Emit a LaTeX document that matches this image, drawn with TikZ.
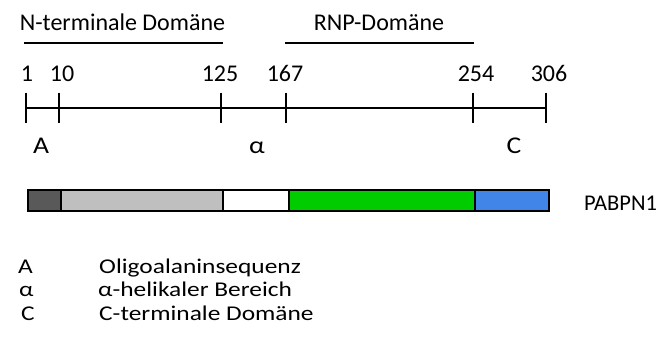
\documentclass[tikz,border=0pt]{standalone}
\usepackage{fontspec}
\setmainfont{Carlito}
\newfontfamily\markfont[FakeStretch=1.15]{Carlito}
\newfontfamily\legfont[FakeStretch=1.21]{Carlito}
\definecolor{segdark}{RGB}{89,89,89}
\definecolor{seglight}{RGB}{191,191,191}
\definecolor{seggreen}{RGB}{0,204,0}
\definecolor{segblue}{RGB}{66,133,232}
\begin{document}
\begin{tikzpicture}[x=1pt,y=-1pt,
  lbl/.style={font=\fontsize{24}{28}\selectfont, anchor=base, inner sep=0pt},
  regionlbl/.style={font=\markfont\fontsize{24}{28}\selectfont, anchor=base, inner sep=0pt},
  leg/.style={font=\legfont\fontsize{21}{25}\selectfont, anchor=base west, inner sep=0pt},
  axis/.style={line width=1.8pt, black},
  segment/.style={draw=black, line width=1.8pt}]
\useasboundingbox (0,0) rectangle (666,340);

% domain headings with their brackets
\node[lbl] (nterm) at (122.5,30.7) {N-terminale Domäne};
\node[lbl] (rnp) at (379,30.7) {RNP-Domäne};
\coordinate (n1) at (24,43.3);
\coordinate (n2) at (222.7,43.3);
\coordinate (r1) at (285,43.3);
\coordinate (r2) at (474,43.3);
\draw[axis] (n1) -- (n2);
\draw[axis] (r1) -- (r2);

% residue axis with ticks
\foreach \name/\x/\lx/\txt in {p1/26/27/1, p10/59/62/10, p125/221/220/125,
                               p167/286/285/167, p254/473/476/254, p306/546/549/306} {
  \coordinate (\name) at (\x,107.7);
  \coordinate (\name t) at (\x,92.7);
  \coordinate (\name b) at (\x,122.7);
  \draw[axis] (\name t) -- (\name b);
  \node[lbl] (\name lbl) at (\lx,81.5) {\txt};
}
\draw[axis] (p1) -- (p306);

% region markers
\node[regionlbl] (ma) at (41,153) {A};
\node[regionlbl] (mh) at (257,153) {α};
\node[regionlbl] (mc) at (514,153) {C};

% protein bar
\fill[segdark]  (27.7,190) rectangle (61,211);
\fill[seglight] (61,190) rectangle (223,211);
\fill[white]    (223,190) rectangle (288.7,211);
\fill[seggreen] (288.7,190) rectangle (475.3,211);
\fill[segblue]  (475.3,190) rectangle (548.7,211);
\draw[segment] (27.7,190) rectangle (548.7,211);
\foreach \x in {61,223,288.7,475.3} \draw[segment] (\x,190) -- (\x,211);
\node[lbl, font=\fontsize{22.5}{26}\selectfont, anchor=base west] (name) at (584,210) {PABPN1};

% legend
\node[leg] (ka) at (18,273.5) {A};
\node[leg] (kh) at (19,296.8) {α};
\node[leg] (kc) at (21,320) {C};
\node[leg] (ta) at (99,273.5) {Oligoalaninsequenz};
\node[leg] (th) at (98,296.8) {α-helikaler Bereich};
\node[leg] (tc) at (99,320) {C-terminale Domäne};
\end{tikzpicture}
\end{document}
